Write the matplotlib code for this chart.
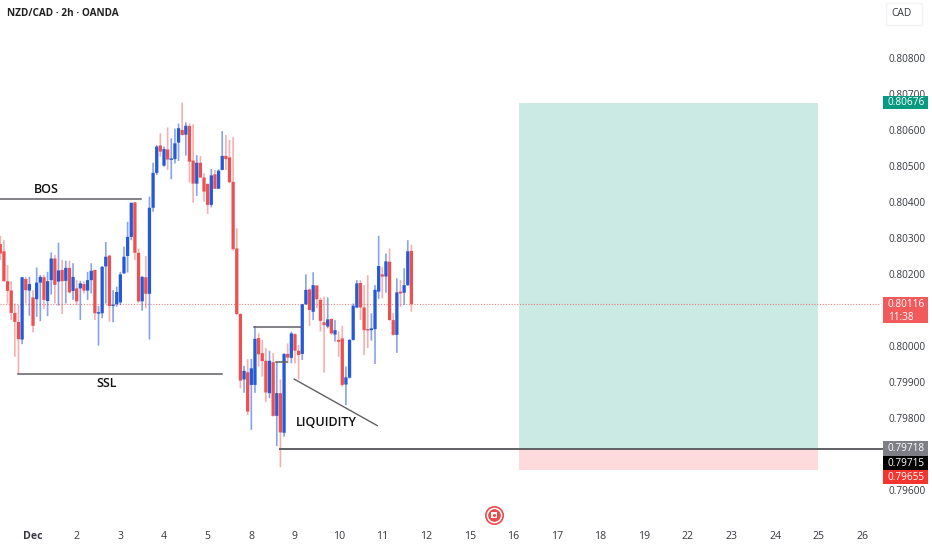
"""
NZD/CAD 2h chart with a long position box and hand drawn liquidity notes.
"""

import numpy as np
from matplotlib import pyplot as plt
from matplotlib.patches import Rectangle

opens = [
    0.80283, 0.80263, 0.80180, 0.80154, 0.80092, 0.80067, 0.80018, 0.80186, 0.80154, 0.80135,
    0.80130, 0.80176, 0.80191, 0.80125, 0.80183, 0.80243, 0.80179, 0.80211, 0.80181, 0.80217,
    0.80153, 0.80160, 0.80160, 0.80172, 0.80154, 0.80183, 0.80211, 0.80090, 0.80091, 0.80221,
    0.80251, 0.80111, 0.80116, 0.80121, 0.80202, 0.80250, 0.80303, 0.80399, 0.80259, 0.80124,
    0.80191, 0.80145, 0.80384, 0.80481, 0.80557, 0.80501, 0.80546, 0.80517, 0.80519, 0.80565,
    0.80600, 0.80587, 0.80611, 0.80515, 0.80451, 0.80509, 0.80468, 0.80450, 0.80392, 0.80477,
    0.80437, 0.80489, 0.80528, 0.80524, 0.80456, 0.80271, 0.80089, 0.79907, 0.79927, 0.79892,
    0.79892, 0.80022, 0.79980, 0.79959, 0.79869, 0.79955, 0.79806, 0.79869, 0.79759, 0.79978,
    0.79967, 0.80033, 0.79987, 0.79978, 0.80116, 0.80157, 0.80095, 0.80168, 0.80128, 0.80066,
    0.80054, 0.80075, 0.80032, 0.80017, 0.80021, 0.79893, 0.79912, 0.80017, 0.80107, 0.80175,
    0.80107, 0.80046, 0.80044, 0.80047, 0.80151, 0.80199, 0.80193, 0.80234, 0.80072, 0.80031,
    0.80151, 0.80148, 0.80169, 0.80264,
]
highs = [
    0.80306, 0.80294, 0.80225, 0.80180, 0.80118, 0.80114, 0.80192, 0.80192, 0.80192, 0.80155,
    0.80218, 0.80197, 0.80197, 0.80206, 0.80260, 0.80253, 0.80287, 0.80239, 0.80237, 0.80237,
    0.80230, 0.80183, 0.80181, 0.80179, 0.80206, 0.80230, 0.80212, 0.80111, 0.80222, 0.80289,
    0.80253, 0.80155, 0.80165, 0.80206, 0.80276, 0.80345, 0.80398, 0.80399, 0.80271, 0.80194,
    0.80250, 0.80415, 0.80509, 0.80558, 0.80591, 0.80554, 0.80607, 0.80577, 0.80604, 0.80618,
    0.80676, 0.80621, 0.80618, 0.80616, 0.80530, 0.80528, 0.80480, 0.80452, 0.80492, 0.80489,
    0.80491, 0.80597, 0.80586, 0.80572, 0.80580, 0.80327, 0.80091, 0.79945, 0.79963, 0.79964,
    0.80056, 0.80035, 0.80017, 0.79994, 0.79987, 0.79980, 0.79956, 0.79907, 0.79980, 0.80007,
    0.80040, 0.80035, 0.80003, 0.80117, 0.80199, 0.80160, 0.80205, 0.80169, 0.80135, 0.80137,
    0.80135, 0.80077, 0.80072, 0.80040, 0.80056, 0.79943, 0.80019, 0.80118, 0.80183, 0.80183,
    0.80169, 0.80197, 0.80091, 0.80169, 0.80306, 0.80220, 0.80257, 0.80271, 0.80091, 0.80188,
    0.80183, 0.80216, 0.80294, 0.80281,
]
lows = [
    0.80239, 0.80179, 0.80118, 0.80072, 0.79970, 0.79921, 0.80005, 0.80118, 0.80084, 0.80038,
    0.80081, 0.80069, 0.80103, 0.80083, 0.80143, 0.80118, 0.80112, 0.80089, 0.80118, 0.80146,
    0.80128, 0.80114, 0.80072, 0.80146, 0.80128, 0.80146, 0.80072, 0.80001, 0.80077, 0.80118,
    0.80067, 0.80066, 0.80109, 0.80114, 0.80200, 0.80204, 0.80294, 0.80239, 0.80120, 0.80098,
    0.80105, 0.80018, 0.80373, 0.80475, 0.80526, 0.80498, 0.80489, 0.80463, 0.80507, 0.80514,
    0.80585, 0.80529, 0.80454, 0.80398, 0.80417, 0.80466, 0.80401, 0.80367, 0.80385, 0.80436,
    0.80436, 0.80488, 0.80489, 0.80452, 0.80265, 0.80086, 0.79882, 0.79870, 0.79808, 0.79767,
    0.79870, 0.79943, 0.79915, 0.79844, 0.79855, 0.79804, 0.79722, 0.79663, 0.79748, 0.79952,
    0.79952, 0.79952, 0.79907, 0.79961, 0.80114, 0.80056, 0.80072, 0.80105, 0.80040, 0.79926,
    0.80049, 0.80031, 0.80012, 0.79970, 0.79887, 0.79836, 0.79910, 0.80015, 0.80105, 0.80072,
    0.79975, 0.79994, 0.80015, 0.79950, 0.80131, 0.80132, 0.80148, 0.80070, 0.80029, 0.79981,
    0.80109, 0.80114, 0.80167, 0.80095,
]
closes = [
    0.80257, 0.80180, 0.80153, 0.80092, 0.80067, 0.80019, 0.80191, 0.80155, 0.80172, 0.80056,
    0.80176, 0.80192, 0.80128, 0.80180, 0.80243, 0.80170, 0.80210, 0.80180, 0.80217, 0.80149,
    0.80192, 0.80124, 0.80174, 0.80154, 0.80183, 0.80209, 0.80091, 0.80092, 0.80220, 0.80248,
    0.80111, 0.80114, 0.80150, 0.80199, 0.80248, 0.80303, 0.80398, 0.80259, 0.80124, 0.80192,
    0.80145, 0.80384, 0.80481, 0.80554, 0.80540, 0.80547, 0.80518, 0.80519, 0.80563, 0.80605,
    0.80586, 0.80612, 0.80512, 0.80451, 0.80509, 0.80468, 0.80429, 0.80392, 0.80474, 0.80437,
    0.80487, 0.80528, 0.80519, 0.80455, 0.80269, 0.80089, 0.79904, 0.79931, 0.79818, 0.79938,
    0.80020, 0.79977, 0.79958, 0.79871, 0.79959, 0.79806, 0.79869, 0.79760, 0.79978, 0.79968,
    0.80035, 0.79987, 0.79975, 0.80116, 0.80156, 0.80100, 0.80169, 0.80130, 0.80070, 0.80058,
    0.80074, 0.80035, 0.80044, 0.80012, 0.79892, 0.79913, 0.80017, 0.80112, 0.80174, 0.80107,
    0.80044, 0.80043, 0.80049, 0.80156, 0.80222, 0.80193, 0.80235, 0.80072, 0.80031, 0.80149,
    0.80146, 0.80169, 0.80263, 0.80116,
]

price_ticks = [0.796, 0.797, 0.798, 0.799, 0.800, 0.801, 0.802, 0.803, 0.804, 0.805, 0.806, 0.807, 0.808]
date_labels = ['Dec', '2', '3', '4', '5', '8', '9', '10', '11', '12', '15', '16', '17', '18', '19',
               '22', '23', '24', '25', '26']

last_price = 0.80116
target_price = 0.80676
entry_price = 0.79718
stop_price = 0.79655

BLUE = '#2459d8'
RED = '#ec5050'
LINE = '#5f6165'
TEXT = '#35383f'
PX_PER_PRICE = 36000


def badge(ax, price, label, color, top_pad=7, bottom_pad=7, sublabel=None):
    # price tag on the right scale, pads are in pixels
    trans = ax.get_yaxis_transform()
    ax.add_patch(Rectangle((883 / 880, price - bottom_pad / PX_PER_PRICE), 45 / 880,
                           (top_pad + bottom_pad) / PX_PER_PRICE,
                           transform=trans, facecolor=color, edgecolor='none', clip_on=False, zorder=6))
    ax.text(888 / 880, price, label, transform=trans, color='white', fontsize=7.2,
            ha='left', va='center', clip_on=False, zorder=7)
    if sublabel:
        ax.text(888 / 880, price - 13 / PX_PER_PRICE, sublabel, transform=trans, color='white',
                fontsize=7.2, ha='left', va='center', clip_on=False, zorder=7)


def main():
    plt.rcParams['font.family'] = ['Open Sans', 'DejaVu Sans']

    fig = plt.figure(figsize=(9.32, 5.5), dpi=100)
    ax = fig.add_axes([0, 30 / 550, 880 / 932, 520 / 550])

    bars = np.arange(len(opens))
    op, hi, lo, cl = map(np.array, (opens, highs, lows, closes))
    up = cl >= op
    colors = np.where(up, BLUE, RED)

    # POSITION BOX.
    box_left, box_right = 142.7, 224.8
    ax.add_patch(Rectangle((box_left, entry_price), box_right - box_left, target_price - entry_price,
                           facecolor='#cbeae4', edgecolor='none', zorder=1))
    ax.add_patch(Rectangle((box_left, stop_price), box_right - box_left, entry_price - stop_price,
                           facecolor='#fddadb', edgecolor='none', zorder=1))

    # LAST PRICE LINE.
    ax.axhline(last_price, color=RED, lw=0.8, ls=(0, (1, 1.5)), alpha=0.7, zorder=1.5)

    # CANDLES.
    for is_up, color, alpha in ((True, BLUE, 0.55), (False, RED, 0.45)):
        mask = up == is_up
        ax.vlines(bars[mask], lo[mask], hi[mask], color=color, lw=1.2, alpha=alpha, zorder=2, snap=False)
    body_low = np.minimum(op, cl)
    body_height = np.maximum(np.abs(cl - op), 0.00004)
    body = ax.bar(bars, body_height, bottom=body_low, width=0.9, color=colors, linewidth=0, zorder=3)
    for patch in body:
        patch.set_snap(False)

    # DRAWINGS.
    ax.plot([-1, 38.6], [0.80408, 0.80408], color=LINE, lw=1.1, zorder=4)
    ax.plot([5, 60.9], [0.79921, 0.79921], color=LINE, lw=1.1, zorder=4)
    ax.plot([69.8, 82.6], [0.80054, 0.80054], color=LINE, lw=1.1, zorder=4)
    ax.plot([75.8, 78.8], [0.79956, 0.79956], color=LINE, lw=1.1, zorder=4)
    ax.plot([80.8, 103.6], [0.79908, 0.79779], color=LINE, lw=1.0, zorder=4)
    ax.plot([76.8, 242.4], [0.79714, 0.79714], color=LINE, lw=1.4, clip_on=False, zorder=4)

    ax.text(12.6, 0.80436, 'BOS', fontsize=9, fontweight='semibold', color='#111111', ha='center', va='center')
    ax.text(29.1, 0.79896, 'SSL', fontsize=9, fontweight='semibold', color='#111111', ha='center', va='center')
    ax.text(89.5, 0.79787, 'LIQUIDITY', fontsize=9, fontweight='semibold', color='#111111', ha='center', va='center')

    # AXES.
    ax.set_xlim(-0.08, 241.8)
    ax.set_ylim(0.795167, 0.809611)
    for spine in ax.spines.values():
        spine.set_visible(False)
    ax.yaxis.tick_right()
    ax.set_yticks(price_ticks)
    ax.set_yticklabels(['%.5f' % tick for tick in price_ticks], fontsize=7.2, color=TEXT)
    ax.set_xticks(9 + 12 * np.arange(len(date_labels)))
    ax.set_xticklabels(date_labels, fontsize=7.6, color=TEXT)
    ax.get_xticklabels()[0].set_fontweight('bold')
    ax.tick_params(axis='both', length=0)
    ax.tick_params(axis='y', pad=6)
    ax.tick_params(axis='x', pad=8)

    # PRICE TAGS.
    badge(ax, target_price, '0.80676', '#089981', top_pad=7, bottom_pad=6)
    badge(ax, last_price, '0.80116', '#f05a5a', top_pad=7, bottom_pad=19, sublabel='11:38')
    badge(ax, 0.79715, '0.79718', '#7d7f86', top_pad=8, bottom_pad=7)
    badge(ax, 0.79675, '0.79715', '#000000', top_pad=7, bottom_pad=7)
    badge(ax, 0.79636, '0.79655', '#f4342e', top_pad=7, bottom_pad=7)

    # HEADER AND CURRENCY BOX.
    fig.text(7 / 932, 1 - 14 / 550, 'NZD/CAD · 2h · OANDA', fontsize=7.2, fontweight='bold',
             color='#222222', ha='left', va='center')
    fig.add_artist(Rectangle((886 / 932, 1 - 25 / 550), 36 / 932, 22 / 550, transform=fig.transFigure,
                             facecolor='white', edgecolor='#f3f4f7', lw=1))
    fig.text(901 / 932, 1 - 14 / 550, 'CAD', fontsize=7.4, color=TEXT, ha='center', va='center')

    # CANADIAN HOLIDAY MARKER.
    flag_x, flag_y = 135.7, 0.79531
    ax.plot(flag_x, flag_y, 'o', ms=12.5, mfc='white', mec='#e94b4b', mew=1.2, clip_on=False, zorder=6)
    ax.plot(flag_x, flag_y, 'o', ms=8.5, mfc='#e94b4b', mec='#e94b4b', mew=0.5, clip_on=False, zorder=6)
    ax.plot(flag_x, flag_y, 's', ms=5, mfc='white', mec='white', mew=0, clip_on=False, zorder=7)
    ax.plot(flag_x, flag_y, 'o', ms=2.2, mfc='#e94b4b', mec='#e94b4b', mew=0, clip_on=False, zorder=8)

    fig.savefig('out.png', dpi=100)


if __name__ == '__main__':
    main()
